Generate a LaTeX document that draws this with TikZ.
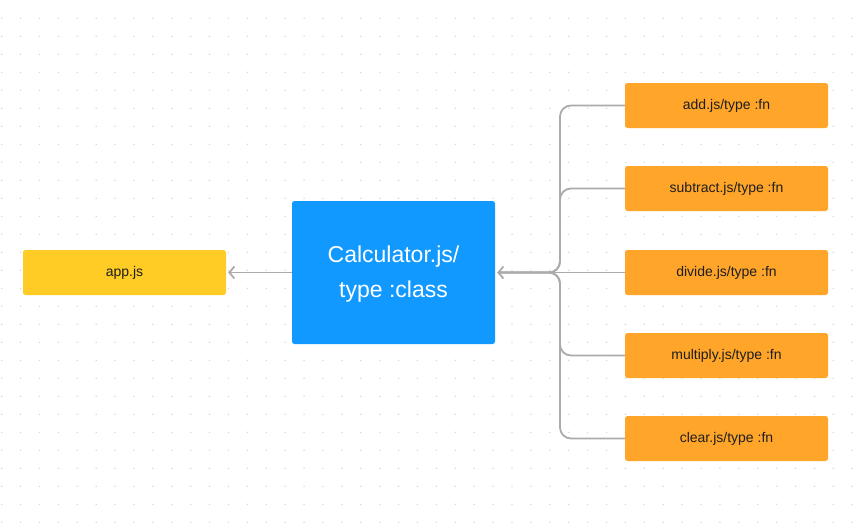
\documentclass[tikz,border=0pt]{standalone}
\usepackage{fontspec}
\setmainfont{Liberation Sans}
\usetikzlibrary{arrows.meta}
\definecolor{dotc}{HTML}{D6D6D6}
\definecolor{appc}{HTML}{FFCC26}
\definecolor{calcc}{HTML}{1199FF}
\definecolor{fnc}{HTML}{FFA52A}
\definecolor{linec}{HTML}{ABABAB}
\definecolor{txtc}{HTML}{1E1E1E}
\tikzset{
  smallbox/.style={rounded corners=2.5pt, minimum width=203, minimum height=45, inner sep=0pt, text=txtc, font=\fontsize{14}{16}\selectfont},
  appbox/.style={smallbox, fill=appc},
  fnbox/.style={smallbox, fill=fnc},
  calcbox/.style={rounded corners=2.5pt, fill=calcc, minimum width=203, minimum height=143, inner sep=0pt},
  calctext/.style={text=white, align=center, inner sep=0pt, font=\fontsize{23}{35}\selectfont},
  conn/.style={draw=linec, line width=1.8pt},
  tip/.style={-{Straight Barb[length=5pt,width=12pt,line width=1.8pt]}},
}
\begin{document}
\begin{tikzpicture}[x=1pt,y=-1pt]
\useasboundingbox (0,0) rectangle (862,528);
\fill[white] (0,0) rectangle (862,528);
\foreach \i in {0,...,45} {
  \foreach \j in {0,...,28} {
    \fill[dotc] (1.7+18.9*\i, 18.3+18*\j) circle (0.8);
  }
}
\node[appbox] (app) at (124.5,272.5) {app.js};
\node[calcbox] (calc) at (393.5,272.5) {};
\node[calctext] (calclbl) at (393.5,274) {Calculator.js/\\type :class};
\node[fnbox] (add) at (726.5,105.5) {add.js/type :fn};
\node[fnbox] (sub) at (726.5,188.5) {subtract.js/type :fn};
\node[fnbox] (div) at (726.5,272.5) {divide.js/type :fn};
\node[fnbox] (mul) at (726.5,355.5) {multiply.js/type :fn};
\node[fnbox] (clr) at (726.5,438.5) {clear.js/type :fn};
\coordinate (j) at (560,272.5);
\draw[conn, tip, shorten >=2pt] (calc.west) -- (app.east);
\draw[conn, tip, shorten >=2pt] (div.west) -- (calc.east);
\foreach \n in {add,sub,mul,clr} {
  \draw[conn, rounded corners=11pt, shorten >=4pt] (\n.west) -- (\n.west -| j) -- (j) -- (calc.east);
}
\end{tikzpicture}
\end{document}
